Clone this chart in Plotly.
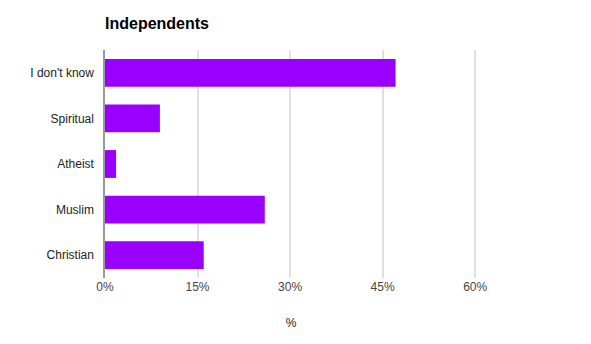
import plotly.graph_objects as go

# Survey responses (share of respondents, %)
categories = ["I don't know", "Spiritual", "Atheist", "Muslim", "Christian"]
shares = [47.1, 8.9, 1.8, 25.9, 16.0]
tick_values = [0, 15, 30, 45, 60]
tick_labels = ["0%", "15%", "30%", "45%", "60%"]

fig = go.Figure(
    go.Bar(
        x=shares,
        y=categories,
        orientation="h",
        marker=dict(color="#9900ff", line=dict(width=0)),
    )
)

fig.update_layout(
    width=591,
    height=344,
    margin=dict(l=105, r=114, t=50, b=66),
    paper_bgcolor="white",
    plot_bgcolor="white",
    font=dict(family="Liberation Sans, Arial, sans-serif", size=12, color="#222222"),
    title=dict(
        text="<b>Independents</b>",
        x=105 / 591,
        xanchor="left",
        y=1 - 23 / 344,
        yanchor="middle",
        font=dict(size=16, color="#000000"),
    ),
    bargap=0.39,
    showlegend=False,
)

fig.update_xaxes(
    range=[0, 60.3],
    tickvals=tick_values,
    ticktext=tick_labels,
    showgrid=True,
    gridcolor="#e0e0e0",
    gridwidth=2,
    zeroline=False,
    showline=False,
    ticks="",
    tickfont=dict(color="#444444"),
    title=dict(text="%", font=dict(color="#222222", size=12), standoff=25),
)

fig.update_yaxes(
    categoryorder="array",
    categoryarray=categories[::-1],
    showgrid=False,
    zeroline=False,
    showline=True,
    linecolor="#999999",
    linewidth=2,
    ticks="",
    ticksuffix="  ",
    tickfont=dict(color="#222222"),
)

fig.write_html("out.html")
